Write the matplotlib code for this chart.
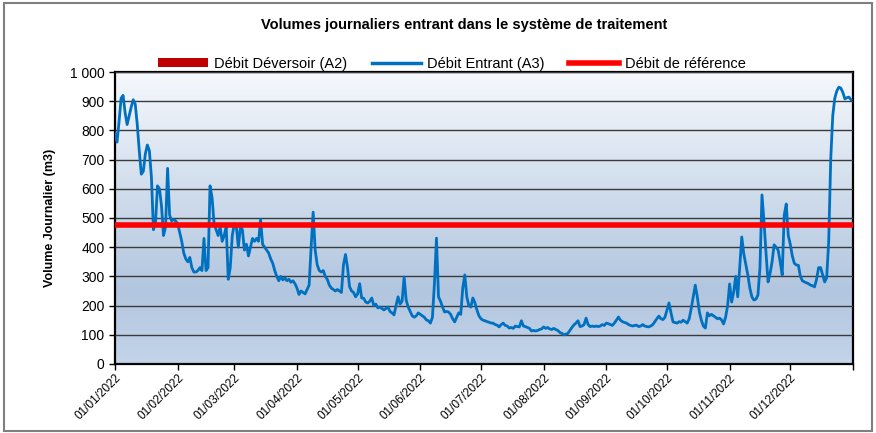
import numpy as np
import pandas as pd
import matplotlib
matplotlib.use('Agg')
import matplotlib.pyplot as plt
import matplotlib.patches as patches
from matplotlib.lines import Line2D
from matplotlib.colors import LinearSegmentedColormap

plt.rcParams['font.family'] = ['Liberation Sans', 'DejaVu Sans']

# daily inflow volumes (m3), one list per month
jan = [790, 760, 830, 910, 920, 860, 820, 850, 880, 905, 890, 820, 730, 650, 660, 720,
       750, 730, 640, 460, 480, 610, 600, 540, 440, 470, 670, 510, 490, 495, 490]
feb = [480, 450, 420, 380, 360, 350, 365, 330, 315, 315, 320, 330, 320, 430, 320, 330,
       610, 570, 480, 460, 440, 470, 420, 440, 470, 290, 330, 440]
mar = [480, 470, 400, 470, 460, 390, 410, 370, 400, 430, 420, 430, 420, 495, 410, 400,
       390, 380, 360, 345, 320, 300, 285, 300, 288, 295, 285, 290, 280, 285, 275]
apr = [260, 238, 250, 245, 240, 255, 270, 400, 520, 390, 340, 320, 315, 320, 300, 290,
       270, 260, 255, 250, 255, 250, 245, 340, 375, 330, 265, 250, 245, 230]
may = [240, 275, 226, 225, 212, 209, 215, 226, 200, 205, 192, 195, 190, 185, 190, 195,
       180, 175, 168, 200, 230, 205, 215, 298, 219, 195, 180, 165, 160, 165, 175]
jun = [170, 165, 160, 151, 148, 140, 160, 277, 431, 230, 215, 195, 178, 180, 178, 170,
       155, 144, 160, 175, 170, 260, 305, 230, 200, 195, 226, 210, 185, 165]
jul = [155, 150, 148, 145, 143, 140, 140, 135, 133, 127, 135, 140, 132, 130, 123, 125,
       122, 130, 128, 127, 148, 130, 128, 125, 122, 113, 115, 113, 115, 118, 120]
aug = [127, 122, 125, 120, 118, 122, 118, 115, 108, 105, 100, 102, 105, 115, 125, 134,
       140, 148, 128, 130, 135, 157, 135, 128, 130, 128, 130, 128, 130, 135, 132]
sep = [140, 138, 135, 132, 140, 150, 161, 150, 145, 142, 140, 135, 132, 130, 132, 133,
       128, 130, 135, 130, 128, 127, 130, 135, 145, 155, 164, 155, 152, 160]
octo = [185, 209, 175, 144, 142, 140, 145, 143, 150, 145, 140, 155, 190, 230, 270, 230,
        180, 150, 130, 123, 175, 165, 170, 165, 160, 155, 157, 151, 137, 160, 200]
nov = [274, 212, 247, 300, 230, 332, 435, 377, 340, 305, 260, 230, 219, 222, 236, 330,
       579, 486, 380, 281, 310, 350, 408, 400, 390, 350, 305, 510, 548, 440]
dec = [410, 370, 345, 339, 338, 300, 285, 281, 278, 275, 270, 268, 264, 290, 330, 330,
       305, 281, 295, 420, 700, 850, 910, 935, 948, 945, 930, 908, 912, 914, 905]

debit_entrant = jan + feb + mar + apr + may + jun + jul + aug + sep + octo + nov + dec
debit_reference = 475
dates = pd.date_range('2022-01-01', periods=len(debit_entrant), freq='D')

fig = plt.figure(figsize=(8.76, 4.33), dpi=100)
ax = fig.add_axes([0.1313, 0.1594, 0.8424, 0.6743])

# gradient background
cmap = LinearSegmentedColormap.from_list('bg', [(0, '#c4d5ea'), (0.25, '#b2c6df'), (1, '#f5f8fc')])
grad = np.linspace(0, 1, 256).reshape(-1, 1)
ax.imshow(grad, cmap=cmap, aspect='auto', origin='lower', extent=[0, 1, 0, 1],
          transform=ax.transAxes, zorder=0)

ax.plot(dates, debit_entrant, color='#0070c0', lw=2, zorder=3)
ax.axhline(debit_reference, color='#ff0000', lw=4, zorder=4)

ax.set_xlim(pd.Timestamp('2022-01-01'), pd.Timestamp('2023-01-01'))
ax.set_ylim(0, 1000)
ax.set_yticks(range(0, 1001, 100))
ax.set_yticklabels(['0', '100', '200', '300', '400', '500', '600', '700', '800', '900', '1 000'])
ax.grid(axis='y', color='#3a3a3a', lw=1, zorder=1)
ax.set_axisbelow(False)

month_ticks = pd.date_range('2022-01-01', '2023-01-01', freq='MS')
ax.set_xticks(month_ticks)
ax.set_xticklabels([d.strftime('%d/%m/%Y') for d in month_ticks[:-1]] + [''],
                   rotation=45, ha='right', rotation_mode='anchor', fontsize=8.5)
ax.tick_params(axis='y', labelsize=10, length=4, width=1)
ax.tick_params(axis='x', length=4, width=1, pad=2)
for s in ax.spines.values():
    s.set_linewidth(1.6)
    s.set_color('black')

ax.set_ylabel('Volume Journalier (m3)', fontsize=9, fontweight='bold', labelpad=10)
fig.text(0.530, 0.943, 'Volumes journaliers entrant dans le système de traitement',
         ha='center', va='center', fontsize=10.5, fontweight='bold')

handles = [patches.Patch(facecolor='#c00000', edgecolor='none'),
           Line2D([], [], color='#0070c0', lw=2.5),
           Line2D([], [], color='#ff0000', lw=4)]
labels = ['Débit Déversoir (A2)', 'Débit Entrant (A3)', 'Débit de référence']
fig.legend(handles, labels, loc='center', bbox_to_anchor=(0.516, 0.853), ncol=3,
           frameon=False, fontsize=10.5, handlelength=3.4, handleheight=0.6,
           columnspacing=1.7, handletextpad=0.4)

fig.patches.append(patches.Rectangle((0.004, 0.004), 0.992, 0.990, transform=fig.transFigure,
                                     fill=False, edgecolor='#7f7f7f', lw=1.5))

fig.savefig('out.png', dpi=100)
